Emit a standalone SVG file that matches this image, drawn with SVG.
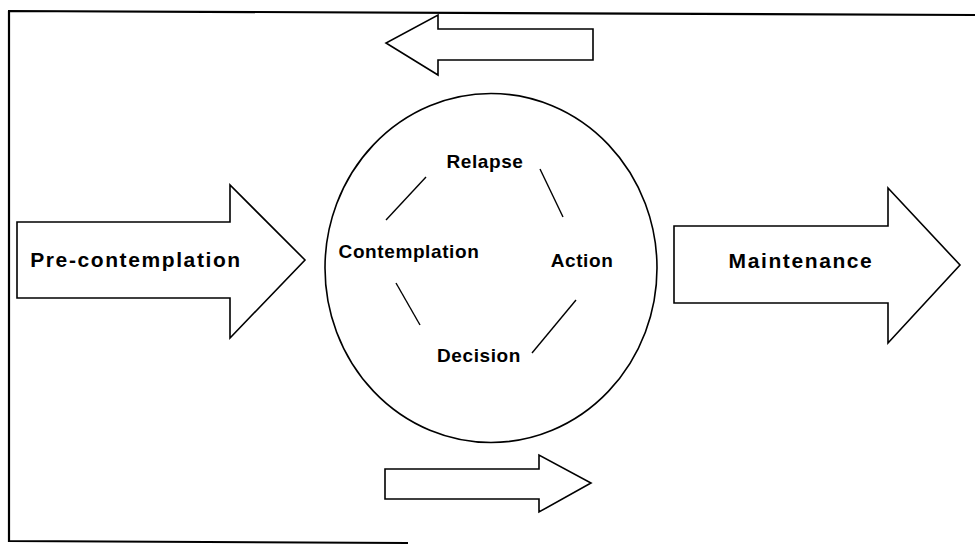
<svg xmlns="http://www.w3.org/2000/svg" width="975" height="545" viewBox="0 0 975 545">
  <style>
    .shape { fill: #ffffff; stroke: #000000; stroke-width: 1.6; stroke-linejoin: miter; }
    .frame { fill: none; stroke: #000000; stroke-width: 2.2; }
    .conn { stroke: #000000; stroke-width: 1.4; fill: none; }
    .big { font-family: "Liberation Sans", Arial, sans-serif; font-weight: bold; font-size: 21px; letter-spacing: 1.6px; fill: #000000; }
    .small { font-family: "Liberation Sans", Arial, sans-serif; font-weight: bold; font-size: 19px; letter-spacing: 0.6px; fill: #000000; }
  </style>
  <rect width="975" height="545" fill="#ffffff"/>
  <g id="frame">
    <path class="frame" d="M8,11 L975,15 M9,11 L9,542 M8,541 L408,543"/>
  </g>
  <g id="pre-contemplation">
    <polygon class="shape" points="17,222 230,222 230,185 305,260 230,338 230,298 17,298"/>
    <text class="big" x="136" y="267" text-anchor="middle">Pre-contemplation</text>
  </g>
  <g id="maintenance">
    <polygon class="shape" points="674,226 888,226 888,188 960,265 888,343 888,303 674,303"/>
    <text class="big" x="801" y="268" text-anchor="middle">Maintenance</text>
  </g>
  <g id="top-arrow">
    <polygon class="shape" points="593,29 438,29 438,15 386,43 438,75 438,60 593,60"/>
  </g>
  <g id="bottom-arrow">
    <polygon class="shape" points="385,469 539,469 539,455 591,483 539,512 539,499 385,499"/>
  </g>
  <g id="cycle">
    <ellipse class="shape" cx="491" cy="268" rx="166" ry="174.5"/>
  </g>
  <g id="relapse">
    <text class="small" x="485" y="168" text-anchor="middle">Relapse</text>
  </g>
  <g id="contemplation">
    <text class="small" x="409" y="258" text-anchor="middle">Contemplation</text>
  </g>
  <g id="action">
    <text class="small" x="582" y="267" text-anchor="middle">Action</text>
  </g>
  <g id="decision">
    <text class="small" x="479" y="362" text-anchor="middle">Decision</text>
  </g>
  <g id="connectors">
    <line class="conn" x1="426" y1="177" x2="386" y2="220"/>
    <line class="conn" x1="540" y1="169" x2="563" y2="217"/>
    <line class="conn" x1="396" y1="283" x2="420" y2="325"/>
    <line class="conn" x1="576" y1="300" x2="532" y2="353"/>
  </g>
</svg>
